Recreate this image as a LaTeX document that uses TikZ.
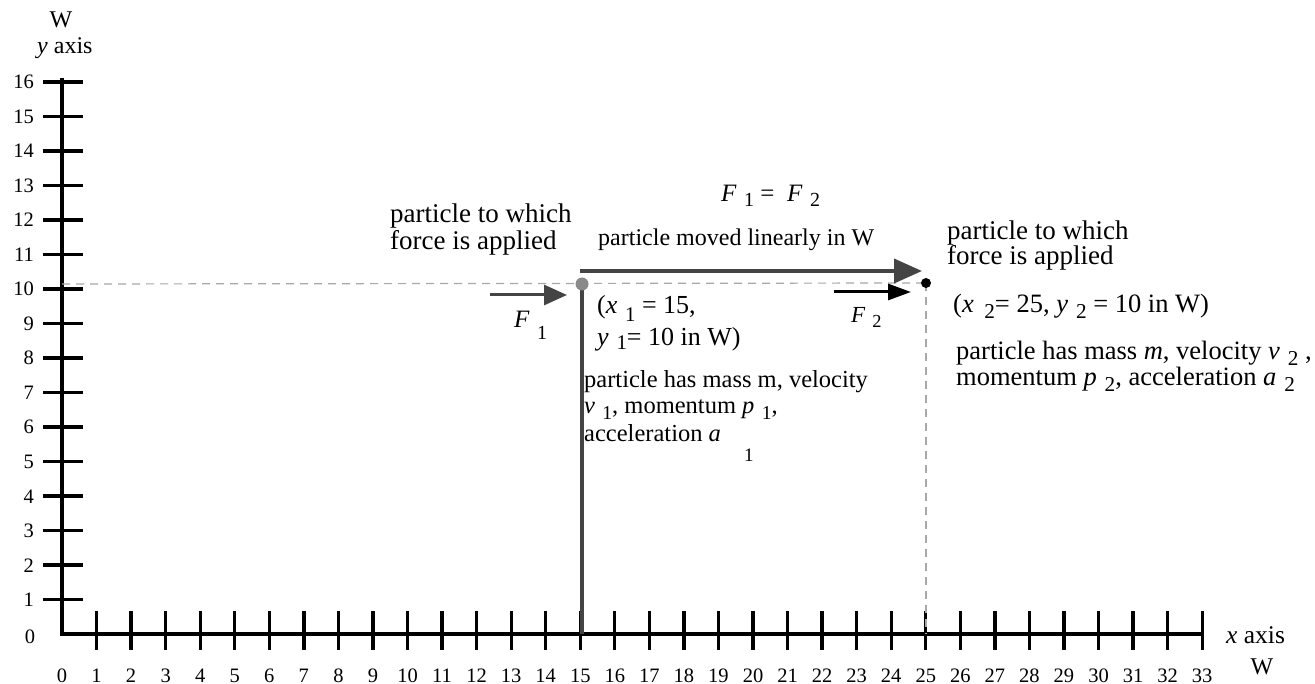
\documentclass[tikz,border=0pt]{standalone}
\usepackage{fontspec}
\usepackage{graphicx}
\setmainfont{Liberation Serif}
\usetikzlibrary{arrows.meta}
\definecolor{darkline}{HTML}{444444}
\definecolor{dashgray}{HTML}{A8A8A8}
\definecolor{dotgray}{HTML}{8A8A8A}
\newcommand{\lsub}[2][0.28em]{\kern0.3em\raisebox{-#1}{\scalebox{0.8}{#2}}}
\tikzset{
  axis/.style={line width=3.3pt, black},
  num/.style={font=\fontsize{20.5}{22}\selectfont, inner sep=0pt},
  ttl/.style={font=\fontsize{24}{26}\selectfont, inner sep=0pt},
  big/.style={font=\fontsize{27}{29}\selectfont, inner sep=0pt, anchor=base west},
  mid/.style={font=\fontsize{24}{26}\selectfont, inner sep=0pt, anchor=base west},
  coord/.style={font=\fontsize{26.5}{28}\selectfont, inner sep=0pt, anchor=base west},
  dashline/.style={dashgray, line width=1.2pt, dash pattern=on 8pt off 6pt},
}
\begin{document}
\begin{tikzpicture}[x=1pt,y=-1pt]
\useasboundingbox (0,0) rectangle (1315,684);
% axes
\coordinate (O) at (62,634);
\coordinate (ytop) at (62,78);
\coordinate (xend) at (1202,634);
\draw[axis] (ytop) -- (O) -- (xend);
\foreach \k in {1,...,16} {
  \draw[axis] (43,634-34.5*\k) -- (83,634-34.5*\k);
  \node[num, anchor=base east] (yl\k) at (34,634-34.5*\k+7) {\k};
}
\node[num, anchor=base] (yl0) at (30,643) {0};
\foreach \k in {1,...,33} {
  \draw[axis] (62+34.55*\k,611) -- (62+34.55*\k,650);
}
\foreach \k in {0,...,33} {
  \node[num, anchor=base] (xl\k) at (62+34.55*\k,682) {\k};
}
\node[ttl, anchor=base] (yW) at (61,28) {W};
\node[ttl, anchor=base west] (yax) at (37,54) {\textit{y} axis};
\node[ttl, font=\fontsize{25.5}{27}\selectfont, anchor=base west] (xax) at (1226,643) {\textit{x} axis};
\node[ttl, anchor=base] (xW) at (1262,674) {W};
% particles and guide lines
\coordinate (P1) at (582,284);
\coordinate (P1b) at (582,634);
\coordinate (P2) at (926,283);
\coordinate (P2b) at (926,634);
\coordinate (Dl) at (62,284);
\draw[dashline] (Dl) -- (P2);
\draw[dashline] (P2) -- (P2b);
\draw[darkline, line width=3.2pt] (P1) -- (P1b);
\fill[dotgray] (P1) circle (6.5);
\fill[black] (P2) circle (5);
% arrows
\coordinate (F1s) at (490,295);
\coordinate (F1e) at (567,295);
\draw[darkline, line width=3pt, -{Triangle[length=23pt,width=20pt]}] (F1s) -- (F1e);
\coordinate (Ms) at (580,271);
\coordinate (Me) at (922,271);
\draw[darkline, line width=3.8pt, -{Triangle[length=28pt,width=24pt]}] (Ms) -- (Me);
\coordinate (F2s) at (834,292);
\coordinate (F2e) at (911,292);
\draw[black, line width=3pt, -{Triangle[length=23pt,width=16pt]}] (F2s) -- (F2e);
% labels
\node[mid, font=\fontsize{25}{27}\selectfont] (F1l) at (514,328) {\textit{F}\lsub[0.45em]{1}};
\node[mid, font=\fontsize{23}{25}\selectfont] (F2l) at (851,323) {\textit{F}\lsub[0.2em]{2}};
\node[mid, font=\fontsize{25}{27}\selectfont] (eq) at (721,202) {\textit{F}\lsub[0.2em]{1} = \ \textit{F}\lsub[0.2em]{2}};
\node[mid] (moved) at (598,246) {particle moved linearly in W};
\node[big] (lt1) at (390,223) {particle to which};
\node[big] (lt2) at (390,250) {force is applied};
\node[big] (rt1) at (947,240) {particle to which};
\node[big] (rt2) at (947,265) {force is applied};
\node[coord, font=\fontsize{26}{28}\selectfont] (c1a) at (597,314) {(\textit{x}\lsub{1} = 15,};
\node[coord, font=\fontsize{26}{28}\selectfont] (c1b) at (597,346) {\textit{y}\lsub[0.15em]{1}= 10 in W)};
\node[mid, font=\fontsize{24.5}{26}\selectfont] (m1a) at (584,388) {particle has mass m, velocity};
\node[mid, font=\fontsize{24.5}{26}\selectfont] (m1b) at (584,414) {\textit{v}\lsub[0.22em]{1}, momentum \textit{p}\lsub[0.22em]{1},};
\node[mid, font=\fontsize{24.5}{26}\selectfont] (m1c) at (584,442) {acceleration \textit{a}};
\node[mid, font=\fontsize{19}{21}\selectfont] (m1d) at (744,461) {1};
\node[coord] (c2) at (953,313) {(\textit{x}\kern0.1em\lsub[0.2em]{2}= 25, \textit{y}\lsub[0.2em]{2} = 10 in W)};
\node[coord] (m2a) at (956,360) {particle has mass \textit{m}, velocity \textit{v}\lsub[0.2em]{2} ,};
\node[coord] (m2b) at (956,386) {momentum \textit{p}\lsub[0.2em]{2}, acceleration \textit{a}\lsub[0.2em]{2}};
\end{tikzpicture}
\end{document}
